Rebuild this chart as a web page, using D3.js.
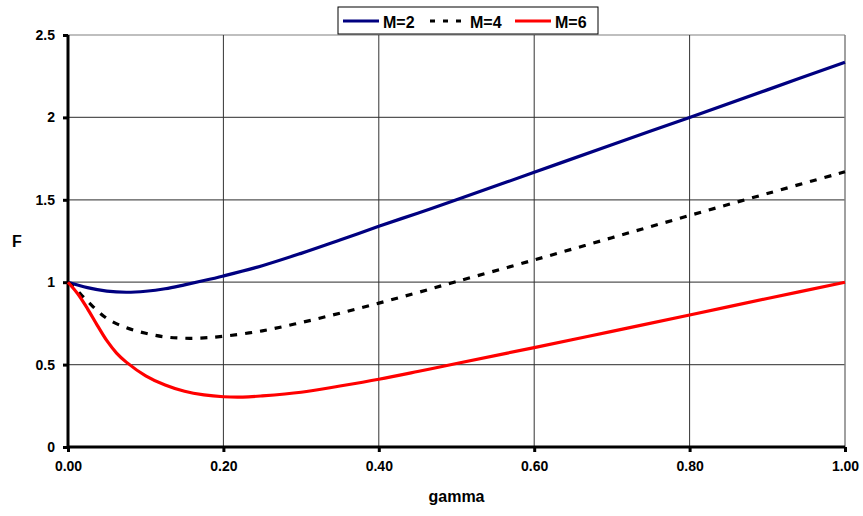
<!DOCTYPE html>
<html><head><meta charset="utf-8">
<script src="https://cdn.jsdelivr.net/npm/d3@7"></script>
<style>body{margin:0;background:#fff}svg{display:block}text{font-family:"Liberation Sans",Arial,sans-serif;font-weight:bold}</style>
</head><body><svg id="c" width="863" height="516"></svg>
<script>
const gammaM2 = [0,0.025,0.05,0.075,0.1,0.125,0.15,0.175,0.2,0.25,0.3,0.35,0.4,0.45,0.5,0.6,0.7,0.8,0.9,1.0];
const valuesM2 = [1.0,0.967,0.946,0.939,0.945,0.96,0.984,1.01,1.038,1.1,1.175,1.256,1.339,1.419,1.5,1.667,1.834,2.0,2.167,2.335];
const gammaM4 = [0,0.0125,0.025,0.05,0.075,0.1,0.125,0.15,0.175,0.2,0.25,0.3,0.35,0.4,0.45,0.5,0.6,0.7,0.8,0.9,1.0];
const valuesM4 = [1.0,0.945,0.885,0.78,0.724,0.69,0.668,0.66,0.662,0.672,0.705,0.755,0.812,0.873,0.937,1.004,1.135,1.27,1.405,1.538,1.67];
const gammaM6 = [0,0.0125,0.025,0.0375,0.05,0.0625,0.075,0.1,0.125,0.15,0.175,0.2,0.225,0.25,0.3,0.35,0.4,0.45,0.5,0.6,0.7,0.8,0.9,1.0];
const valuesM6 = [1.0,0.93,0.84,0.74,0.645,0.57,0.515,0.432,0.376,0.338,0.316,0.305,0.303,0.31,0.332,0.37,0.411,0.458,0.507,0.603,0.702,0.801,0.901,1.0];
const seriesNames = ["M=2","M=4","M=6"];
const xTicks = [0,0.2,0.4,0.6,0.8,1.0];
const yTicks = [0,0.5,1,1.5,2,2.5];

const svg = d3.select("#c");
const L=68, R=845, T=35, B=447;
const x = d3.scaleLinear().domain([0,1]).range([L,R]);
const y = d3.scaleLinear().domain([0,2.5]).range([B,T]);

// gridlines
svg.append("g").selectAll("line").data(yTicks.filter(d=>d>0)).join("line")
  .attr("x1",L).attr("x2",R).attr("y1",d=>y(d)).attr("y2",d=>y(d))
  .attr("stroke",d=>d===2.5?"#808080":"#555").attr("stroke-width",1.2);
svg.append("g").selectAll("line").data(xTicks.filter(d=>d>0)).join("line")
  .attr("x1",d=>x(d)).attr("x2",d=>x(d)).attr("y1",T).attr("y2",B)
  .attr("stroke",d=>d===1?"#808080":"#333").attr("stroke-width",d=>d===1?1.5:1);

// axes
const yAxis = svg.append("g").attr("transform",`translate(${L},0)`)
  .call(d3.axisLeft(y).tickValues(yTicks).tickFormat(d3.format("")).tickSize(5).tickPadding(8));
const xAxis = svg.append("g").attr("transform",`translate(0,${B})`)
  .call(d3.axisBottom(x).tickValues(xTicks).tickFormat(d3.format(".2f")).tickSize(5).tickPadding(9));
[yAxis,xAxis].forEach(a=>{
  a.select(".domain").attr("stroke","#000").attr("stroke-width",3);
  a.selectAll(".tick line").attr("stroke","#000").attr("stroke-width",3);
  a.selectAll("text").attr("font-size",14).attr("font-family","Liberation Sans, Arial").attr("font-weight","bold").attr("fill","#000");
});
yAxis.select(".domain").attr("d",`M0,${B}V${T}`);
xAxis.select(".domain").attr("d",`M${L},0H${R}`);

// titles
svg.append("text").attr("x",(L+R)/2).attr("y",502).attr("text-anchor","middle").attr("font-size",16).text("gamma");
svg.append("text").attr("x",17).attr("y",247).attr("text-anchor","middle").attr("font-size",16).text("F");

const line = d3.line().x(d=>x(d[0])).y(d=>y(d[1])).curve(d3.curveCatmullRom.alpha(0.5));
const data = [
  {g:gammaM2,v:valuesM2,c:"#000080",dash:null},
  {g:gammaM4,v:valuesM4,c:"#000000",dash:"7,8"},
  {g:gammaM6,v:valuesM6,c:"#ff0000",dash:null}
];
data.forEach(s=>{
  svg.append("path").datum(s.g.map((g,i)=>[g,s.v[i]]))
    .attr("d",line).attr("fill","none").attr("stroke",s.c).attr("stroke-width",3.2)
    .attr("stroke-dasharray",s.dash);
});

// legend
const lg = svg.append("g");
lg.append("rect").attr("x",338).attr("y",7).attr("width",260).attr("height",27)
  .attr("fill","#fff").attr("stroke","#000").attr("stroke-width",1);
const lx = [343,430,515];
data.forEach((s,i)=>{
  lg.append("line").attr("x1",lx[i]).attr("x2",lx[i]+36).attr("y1",21).attr("y2",21)
    .attr("stroke",s.c).attr("stroke-width",3.2).attr("stroke-dasharray",s.dash?"5,8":null);
  lg.append("text").attr("x",lx[i]+40).attr("y",27.5).attr("font-size",16).text(seriesNames[i]);
});
</script></body></html>
